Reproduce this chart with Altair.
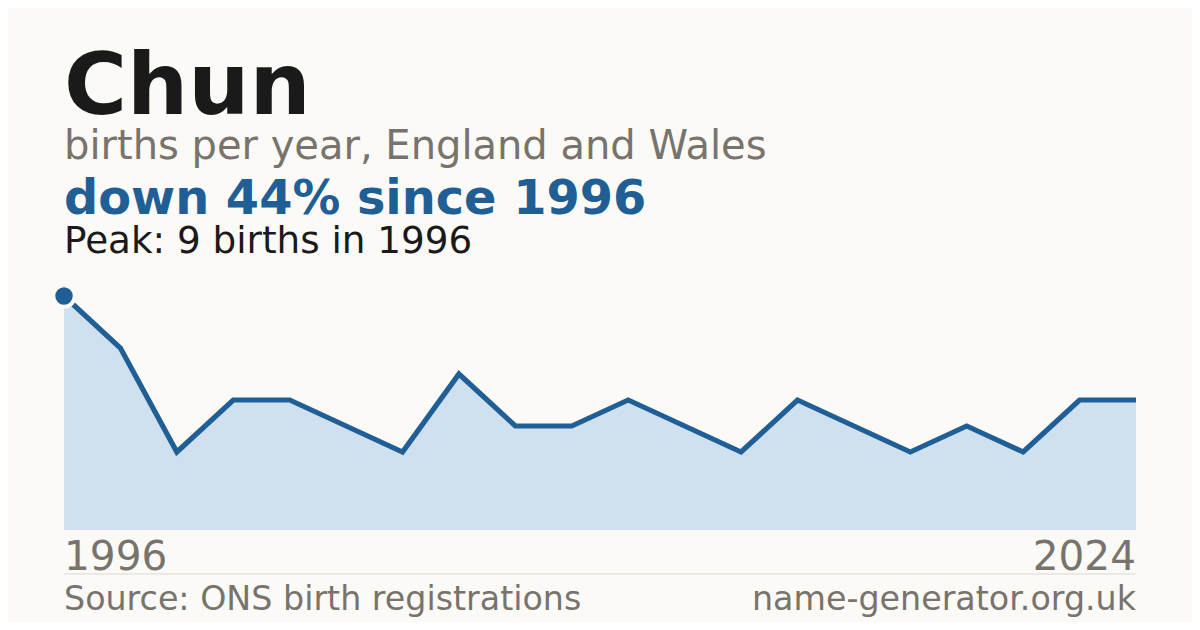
import altair as alt
import pandas as pd

# ---- data ----
name = "Chun"
subtitle = "births per year, England and Wales"
first_year = 1996
last_year = 2024
peak_year = 1996
births = [9, 7, 3, 5, 5, 4, 3, 6, 4, 4, 5, 4, 3, 5, 4, 3, 4, 3, 5, 5]
source_text = "Source: ONS birth registrations"
site_text = "name-generator.org.uk"

# ---- styles ----
BG = "#fbfaf6"
BLUE = "#1f5f96"
FILL = "#d0e0ef"
GREY = "#78736c"
INK = "#1a1a1a"
RULE = "#dcd9d3"
FONT = "DejaVu Sans"

n = len(births)
df = pd.DataFrame({"i": list(range(n)), "births": births})
peak_val = max(births)
peak_df = df[df["births"] == peak_val].head(1)
change = round((births[-1] - births[0]) / births[0] * 100)
headline = f"{'down' if change < 0 else 'up'} {abs(change)}% since {first_year}"
peak_text = f"Peak: {peak_val} births in {peak_year}"

X0, X1 = 56, 1128
Y0, Y1 = 522, 288

x = alt.X("i:Q", scale=alt.Scale(domain=[0, n - 1], range=[X0, X1]), axis=None)
y = alt.Y("births:Q", scale=alt.Scale(domain=[0, peak_val], range=[Y0, Y1]), axis=None)

area = alt.Chart(df).mark_area(color=FILL, opacity=1).encode(x=x, y=y)
line = alt.Chart(df).mark_line(
    color=BLUE, strokeWidth=5.2, strokeJoin="miter", strokeCap="butt"
).encode(x=x, y=y)
dot = alt.Chart(peak_df).mark_circle(
    color=BLUE, opacity=1, size=460, stroke=BG, strokeWidth=4, strokeOpacity=1
).encode(x=x, y=y)


def txt(s, px, py, size, color, weight="normal", align="left"):
    return alt.Chart(pd.DataFrame({"t": [s]})).mark_text(
        align=align, baseline="alphabetic", font=FONT, fontSize=size,
        fontWeight=weight, color=color
    ).encode(x=alt.value(px), y=alt.value(py), text="t:N")


texts = [
    txt(name, X0, 105.5, 86, INK, "bold"),
    txt(subtitle, X0, 151, 40, GREY),
    txt(headline, X0, 205.5, 47.8, BLUE, "bold"),
    txt(peak_text, X0, 245, 37.3, INK),
    txt(str(first_year), X0, 561.5, 40.6, GREY),
    txt(str(last_year), X1, 561.5, 40.6, GREY, align="right"),
    txt(source_text, X0, 602, 33.3, GREY),
    txt(site_text, X1, 602, 33.3, GREY, align="right"),
]

rule = alt.Chart(pd.DataFrame({"a": [0]})).mark_rule(color=RULE, strokeWidth=1).encode(
    x=alt.value(X0), x2=alt.value(X1), y=alt.value(566)
)

chart = alt.layer(area, line, dot, rule, *texts).properties(
    width=1184, height=614, background=BG, padding=0,
    autosize=alt.AutoSizeParams(type="none"),
).configure_view(strokeWidth=0)

chart.save("out.html", embed_options={"renderer": "svg", "actions": False})
